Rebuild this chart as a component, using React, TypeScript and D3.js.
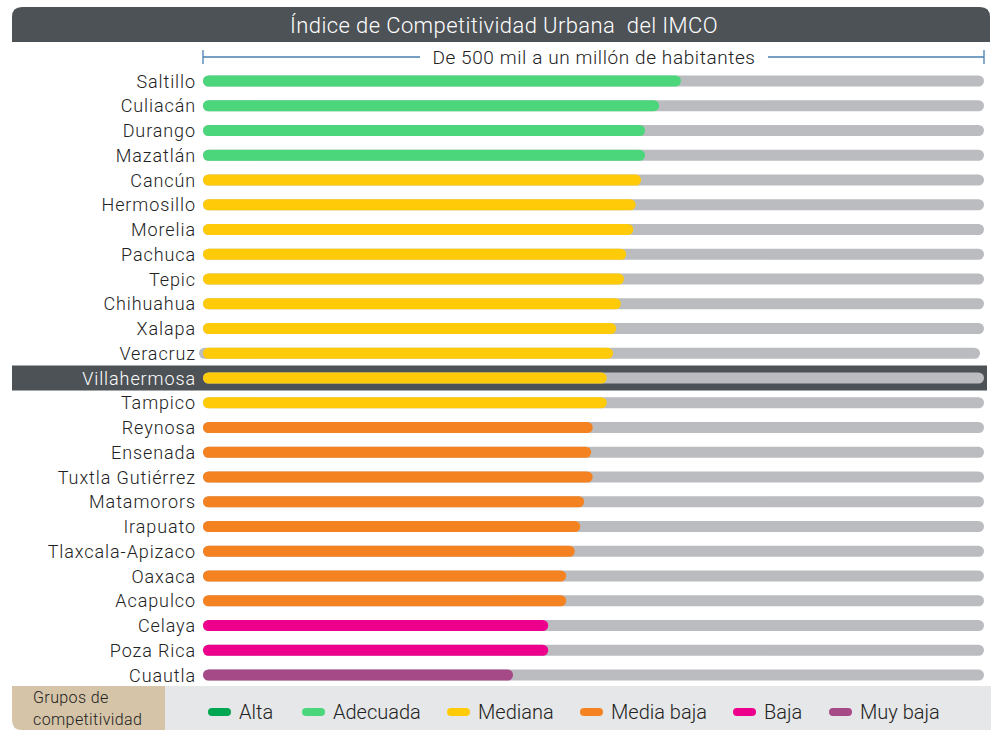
import React from "react";
import * as d3 from "d3";

const cities = ["Saltillo","Culiacán","Durango","Mazatlán","Cancún","Hermosillo","Morelia","Pachuca","Tepic","Chihuahua","Xalapa","Veracruz","Villahermosa","Tampico","Reynosa","Ensenada","Tuxtla Gutiérrez","Matamorors","Irapuato","Tlaxcala-Apizaco","Oaxaca","Acapulco","Celaya","Poza Rica","Cuautla"];
const values = [61.2,58.4,56.6,56.6,56.1,55.4,55.1,54.2,53.9,53.5,52.9,52.5,51.7,51.7,49.9,49.7,49.9,48.8,48.3,47.6,46.5,46.5,44.2,44.2,39.7];
const groups = ["Adecuada","Adecuada","Adecuada","Adecuada","Mediana","Mediana","Mediana","Mediana","Mediana","Mediana","Mediana","Mediana","Mediana","Mediana","Media baja","Media baja","Media baja","Media baja","Media baja","Media baja","Media baja","Media baja","Baja","Baja","Muy baja"];
const groupNames = ["Alta","Adecuada","Mediana","Media baja","Baja","Muy baja"];
const groupColors = ["#00a650","#4cd67b","#ffcb08","#f58220","#ec008c","#a64a87"];
const highlight = "Villahermosa";
const shiftedRow = "Veracruz";
const title = "Índice de Competitividad Urbana  del IMCO";
const subtitle = "De 500 mil a un millón de habitantes";

const W = 991, H = 730;
const FONT = "Roboto, 'Liberation Sans', sans-serif";

export default function App() {
  const x = d3.scaleLinear().domain([0, 100]).range([203, 984]);
  const y = d3.scalePoint<string>().domain(cities).range([81, 675]);
  const color = d3.scaleOrdinal<string, string>().domain(groupNames).range(groupColors);
  const bh = 11;
  const legendX = [208, 302, 447, 580, 733, 829];
  return (
    <svg width={W} height={H} style={{ position: "absolute", left: 0, top: 0, fontFamily: FONT }}>
      <path d="M12,42 L12,17 Q12,7 22,7 L980,7 Q990,7 990,17 L990,42 Z" fill="#4d5257" />
      <text x={504} y={33} textAnchor="middle" fill="#fff" fontSize={22} fontWeight={300} letterSpacing={0.4} style={{ whiteSpace: "pre" }}>{title}</text>
      <g stroke="#4a7fb0" strokeWidth={1.3}>
        <line x1={x(0)} x2={420} y1={57} y2={57} />
        <line x1={768} x2={x(100)} y1={57} y2={57} />
        <line x1={x(0)} x2={x(0)} y1={50} y2={64} />
        <line x1={x(100)} x2={x(100)} y1={50} y2={64} />
      </g>
      <text x={594} y={64} textAnchor="middle" fill="#222" fontSize={19} fontWeight={300} letterSpacing={0.6}>{subtitle}</text>
      {cities.map((c, i) => {
        const yc = y(c)!;
        const hl = c === highlight;
        const off = c === shiftedRow ? -4 : 0;
        return (
          <g key={c}>
            {hl && <rect x={12} y={yc - 12.5} width={975} height={25} fill="#4d5257" />}
            <rect x={x(0) + off} y={yc - bh / 2} width={x(100) - x(0)} height={bh} rx={bh / 2} fill="#bbbcbf" />
            <rect x={x(0)} y={yc - bh / 2} width={x(values[i]) - x(0)} height={bh} rx={bh / 2} fill={color(groups[i])} />
            <text x={196} y={yc + 6.5} textAnchor="end" fontSize={18} fontWeight={300} letterSpacing={0.9} fill={hl ? "#fff" : "#222"}>{c}</text>
          </g>
        );
      })}
      <path d="M12,686 L165,686 L165,730 L22,730 Q12,730 12,720 Z" fill="#d5c4a8" />
      <rect x={165} y={686} width={826} height={44} fill="#e6e7e8" />
      <text x={33} y={703} fontSize={16} fontWeight={300} letterSpacing={0.4} fill="#222">Grupos de</text>
      <text x={33} y={725} fontSize={16} fontWeight={300} letterSpacing={0.4} fill="#222">competitividad</text>
      {groupNames.map((g, i) => (
        <g key={g}>
          <rect x={legendX[i]} y={708} width={23} height={8} rx={4} fill={color(g)} />
          <text x={legendX[i] + 31} y={719} fontSize={20} fontWeight={300} fill="#222">{g}</text>
        </g>
      ))}
    </svg>
  );
}
